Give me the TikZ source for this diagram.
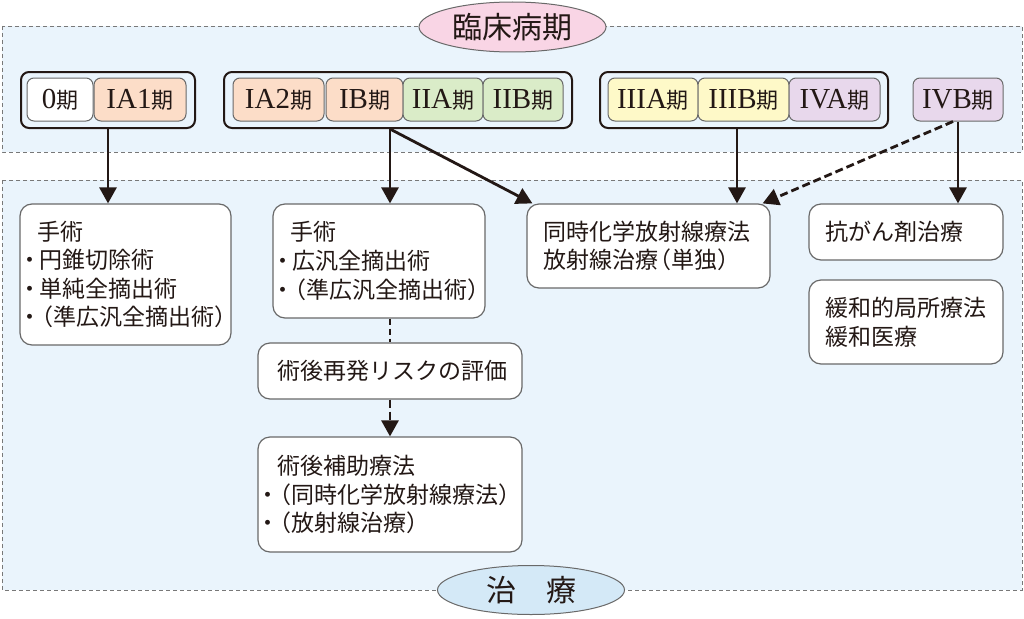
\documentclass[tikz,border=0pt]{standalone}
\usepackage{fontspec}
\setmainfont{Liberation Serif}
\newfontfamily\jp{Noto Sans CJK JP}
\usetikzlibrary{arrows.meta,shapes.geometric}
\definecolor{regfill}{RGB}{234,244,252}
\definecolor{regline}{RGB}{120,120,120}
\definecolor{pinkfill}{RGB}{249,213,229}
\definecolor{bluefill}{RGB}{212,233,247}
\definecolor{peach}{RGB}{252,221,200}
\definecolor{greenf}{RGB}{218,236,200}
\definecolor{yellowf}{RGB}{254,249,200}
\definecolor{purplef}{RGB}{232,216,236}
\definecolor{ink}{RGB}{35,24,21}
\definecolor{boxline}{RGB}{105,105,105}
\newcommand{\stg}[1]{{\fontsize{29}{30}\selectfont #1}{\jp\fontsize{22}{24}\selectfont 期}}
\newcommand{\bul}{\makebox[19.5pt][c]{・}}
\newcommand{\lp}{\kern-0.4em（}
\tikzset{
  region/.style={draw=regline, fill=regfill, line width=0.9pt, dash pattern=on 4pt off 3pt},
  lab/.style={ellipse, draw=boxline, line width=1pt, inner sep=0pt, font=\jp\fontsize{30}{32}\selectfont, text=ink},
  grp/.style={draw=ink, line width=2pt, rounded corners=8pt, inner sep=0pt},
  stage/.style={draw=boxline, line width=1pt, rounded corners=7pt, minimum height=43pt, inner sep=0pt, text=ink},
  tbox/.style={draw=boxline, fill=white, line width=1.2pt, rounded corners=12pt, inner xsep=0pt, inner ysep=0pt, align=left, text=ink, font=\jp\fontsize{23}{28.6}\selectfont},
  arr/.style={draw=ink, line width=2.8pt, -{Triangle[width=17pt,length=16pt]}},
  dline/.style={draw=ink, line width=2.8pt, dash pattern=on 6pt off 4pt},
  darr/.style={arr, dash pattern=on 8pt off 4pt}
}
\begin{document}
\begin{tikzpicture}[x=1pt,y=-1pt]
\useasboundingbox (0,0) rectangle (1024,618);
\fill[white] (0,0) rectangle (1024,618);
% regions
\draw[region] (2,26) rectangle (1022,152);
\draw[region] (2,180) rectangle (1022,590);
% stage groups
\node[grp, minimum width=174pt, minimum height=56pt] (g1) at (108,100) {};
\node[grp, minimum width=348pt, minimum height=56pt] (g2) at (398,100) {};
\node[grp, minimum width=288pt, minimum height=56pt] (g3) at (744,100) {};
% stages
\node[stage, fill=white, minimum width=66pt] (s0) at (60,99.5) {\stg{0}};
\node[stage, fill=peach, minimum width=92pt] (sIA1) at (140,99.5) {\stg{IA1}};
\node[stage, fill=peach, minimum width=91pt] (sIA2) at (278.5,99.5) {\stg{IA2}};
\node[stage, fill=peach, minimum width=77pt] (sIB) at (364.5,99.5) {\stg{IB}};
\node[stage, fill=greenf, minimum width=80pt] (sIIA) at (443,99.5) {\stg{IIA}};
\node[stage, fill=greenf, minimum width=80pt] (sIIB) at (523,99.5) {\stg{IIB}};
\node[stage, fill=yellowf, minimum width=90pt] (sIIIA) at (653,99.5) {\stg{IIIA}};
\node[stage, fill=yellowf, minimum width=91pt] (sIIIB) at (743.5,99.5) {\stg{IIIB}};
\node[stage, fill=purplef, minimum width=91pt] (sIVA) at (834.5,99.5) {\stg{IVA}};
\node[stage, fill=purplef, minimum width=90pt] (sIVB) at (958,99.5) {\stg{IVB}};
% treatment boxes
\node[tbox, text width=211pt, minimum height=141pt] (b1) at (125.5,274.5)
  {\hspace*{17pt}手術\\\bul 円錐切除術\\\bul 単純全摘出術\\\bul\lp 準広汎全摘出術）};
\node[tbox, text width=212pt, minimum height=114pt] (b2) at (379,261)
  {\hspace*{17pt}手術\\\bul 広汎全摘出術\\\bul\lp 準広汎全摘出術）};
\node[tbox, text width=243pt, minimum height=84pt] (b3) at (648.5,246)
  {\hspace*{16pt}同時化学放射線療法\\\hspace*{16pt}放射線治療\lp 単独）};
\node[tbox, text width=194pt, minimum height=56pt] (b4) at (906,232)
  {\hspace*{16pt}抗がん剤治療};
\node[tbox, text width=194pt, minimum height=84pt] (b5) at (906,322)
  {\hspace*{16pt}緩和的局所療法\\\hspace*{16pt}緩和医療};
\node[tbox, text width=264pt, minimum height=56pt] (b6) at (390,371)
  {\hspace*{19pt}術後再発リスクの評価};
\node[tbox, text width=264pt, minimum height=115pt] (b7) at (390,494.5)
  {\hspace*{19pt}術後補助療法\\\bul\lp 同時化学放射線療法）\\\bul\lp 放射線治療）};
% connectors
\draw[arr] (g1.south) -- (g1.south |- b1.north);
\draw[arr] ([xshift=-8pt]g2.south) -- ([xshift=-8pt]g2.south |- b2.north);
\draw[arr] ([xshift=-8pt]g2.south) -- ([xshift=6pt]b3.north west);
\draw[arr] ([xshift=-7pt]g3.south) -- ([xshift=-7pt]g3.south |- b3.north);
\draw[darr] ([xshift=-5pt]sIVB.south) -- ([xshift=-8pt]b3.north east);
\draw[arr] (sIVB.south) -- (sIVB.south |- b4.north);
\draw[dline] (b6.north |- b2.south) -- (b6.north);
\draw[darr] (b6.south) -- (b7.north);
% labels
\node[lab, fill=pinkfill, minimum width=187pt, minimum height=50pt] (top) at (512.5,27) {臨床病期};
\node[lab, fill=bluefill, minimum width=187pt, minimum height=49pt] (bot) at (531,590) {治\hspace{1em}療};
\end{tikzpicture}
\end{document}
